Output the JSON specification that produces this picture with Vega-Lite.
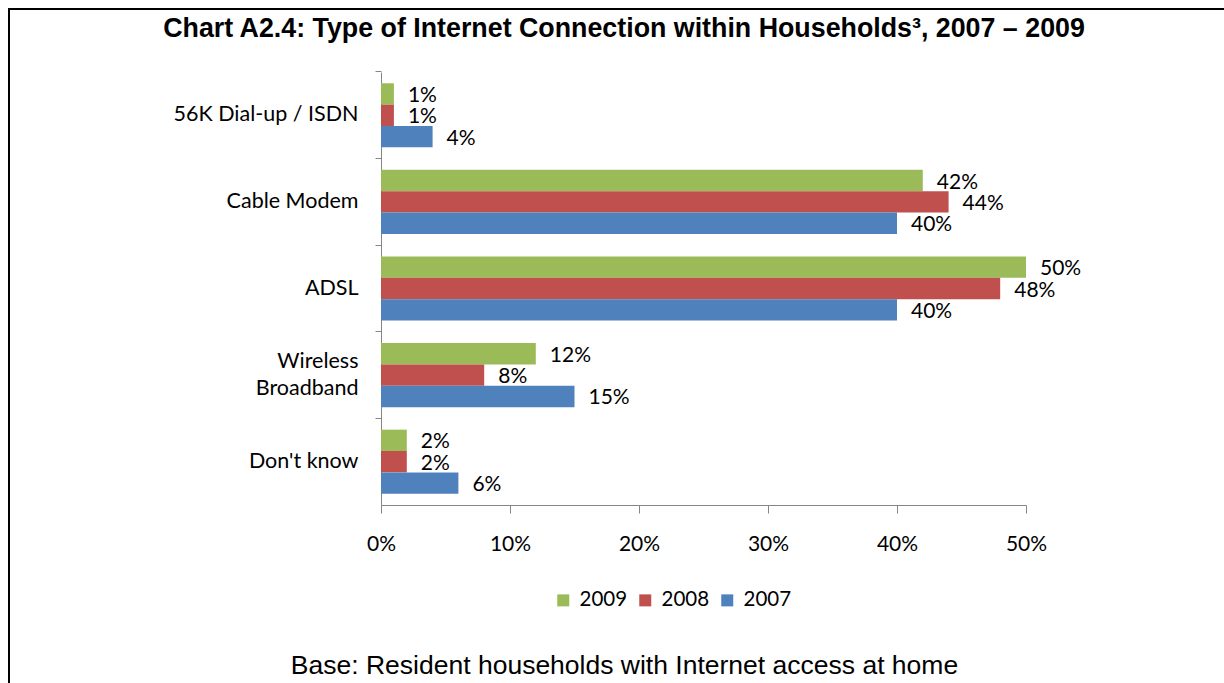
{
  "$schema": "https://vega.github.io/schema/vega-lite/v6.json",
  "width": 1230,
  "height": 700,
  "autosize": {"type": "none"},
  "padding": {"left": 9, "top": 9, "right": 0, "bottom": 0},
  "background": "white",
  "title": {
    "text": "Chart A2.4: Type of Internet Connection within Households³, 2007 – 2009",
    "font": "Liberation Sans",
    "fontSize": 26.8,
    "fontWeight": "bold",
    "color": "black",
    "frame": "group",
    "anchor": "middle",
    "baseline": "alphabetic",
    "offset": 0,
    "dy": 55
  },
  "config": {
    "view": {"stroke": "black", "strokeWidth": 2},
    "font": "Lato"
  },
  "data": {
    "values": [
      {"type": "56K Dial-up / ISDN", "year": "2009", "pct": 0.01},
      {"type": "56K Dial-up / ISDN", "year": "2008", "pct": 0.01},
      {"type": "56K Dial-up / ISDN", "year": "2007", "pct": 0.04},
      {"type": "Cable Modem", "year": "2009", "pct": 0.42},
      {"type": "Cable Modem", "year": "2008", "pct": 0.44},
      {"type": "Cable Modem", "year": "2007", "pct": 0.40},
      {"type": "ADSL", "year": "2009", "pct": 0.50},
      {"type": "ADSL", "year": "2008", "pct": 0.48},
      {"type": "ADSL", "year": "2007", "pct": 0.40},
      {"type": "Wireless Broadband", "year": "2009", "pct": 0.12},
      {"type": "Wireless Broadband", "year": "2008", "pct": 0.08},
      {"type": "Wireless Broadband", "year": "2007", "pct": 0.15},
      {"type": "Don't know", "year": "2009", "pct": 0.02},
      {"type": "Don't know", "year": "2008", "pct": 0.02},
      {"type": "Don't know", "year": "2007", "pct": 0.06}
    ]
  },
  "encoding": {
    "y": {
      "field": "type",
      "type": "nominal",
      "sort": ["56K Dial-up / ISDN", "Cable Modem", "ADSL", "Wireless Broadband", "Don't know"],
      "scale": {"range": [63, 496], "paddingInner": 0.26, "paddingOuter": 0.13},
      "axis": {
        "title": null,
        "offset": -372,
        "domainColor": "#868686",
        "tickColor": "#868686",
        "tickSize": 6,
        "bandPosition": -0.1757,
        "labelPadding": 17,
        "labelLimit": 400,
        "labelFont": "Lato",
        "labelFontSize": 21.5,
        "labelColor": "black",
        "labelLineHeight": 27,
        "labelOffset": {"condition": {"test": "datum.label == 'Wireless Broadband'", "value": -13}, "value": 0},
        "labelExpr": "datum.label == 'Wireless Broadband' ? ['Wireless', 'Broadband'] : datum.label"
      }
    },
    "yOffset": {
      "field": "year",
      "type": "nominal",
      "sort": ["2009", "2008", "2007"],
      "scale": {"paddingInner": 0, "paddingOuter": 0}
    },
    "x": {
      "field": "pct",
      "type": "quantitative",
      "scale": {"domain": [0, 0.5], "range": [372, 1017], "nice": false},
      "axis": {
        "values": [0, 0.1, 0.2, 0.3, 0.4, 0.5],
        "format": ".0%",
        "offset": -204,
        "grid": false,
        "labelFlush": false,
        "domainColor": "#868686",
        "tickColor": "#868686",
        "tickSize": 8,
        "labelPadding": 20,
        "labelFont": "Lato",
        "labelFontSize": 21,
        "labelColor": "black",
        "title": "Base: Resident households with Internet access at home",
        "titleFont": "Liberation Sans",
        "titleFontSize": 26.5,
        "titleFontWeight": "normal",
        "titleColor": "black",
        "titleX": 615,
        "titleY": 160,
        "titleAlign": "center",
        "titleBaseline": "middle"
      }
    }
  },
  "layer": [
    {
      "mark": {"type": "bar"},
      "encoding": {
        "color": {
          "field": "year",
          "type": "nominal",
          "scale": {"domain": ["2009", "2008", "2007"], "range": ["#9BBB59", "#C0504D", "#4F81BD"]},
          "legend": {
            "title": null,
            "orient": "none",
            "direction": "horizontal",
            "legendX": 544,
            "legendY": 581,
            "symbolType": "square",
            "symbolSize": 144,
            "symbolStrokeWidth": 0,
            "symbolOpacity": 1,
            "labelFont": "Lato",
            "labelFontSize": 20.5,
            "labelColor": "black",
            "columnPadding": 7,
            "labelOffset": 6
          }
        }
      }
    },
    {
      "mark": {"type": "text", "align": "left", "baseline": "middle", "dx": 14, "dy": 2, "font": "Lato", "fontSize": 21, "color": "black"},
      "encoding": {
        "text": {"field": "pct", "type": "quantitative", "format": ".0%"},
        "detail": {"field": "year"}
      }
    }
  ]
}
